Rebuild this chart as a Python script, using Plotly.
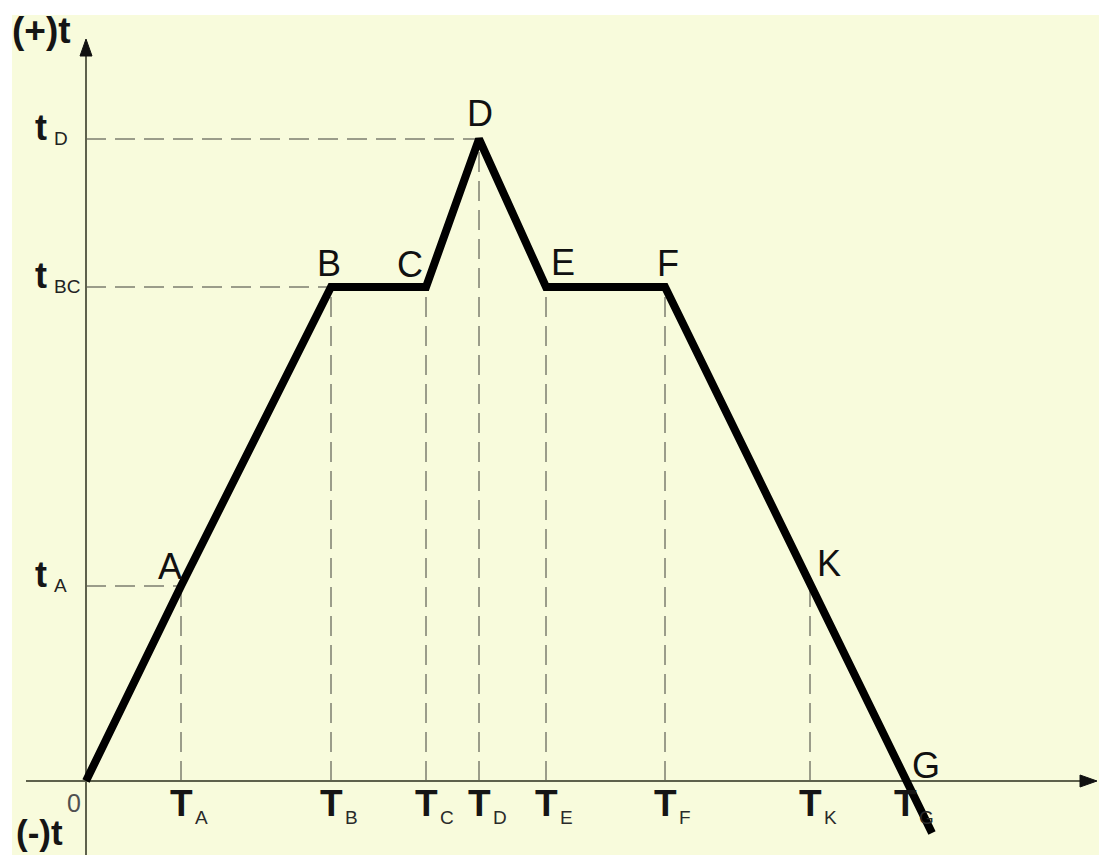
import plotly.graph_objects as go

# time marks on the horizontal axis (pixel-like units, origin at 0)
T_names = ["A", "B", "C", "D", "E", "F", "K", "G"]
T_vals = [95, 245, 340, 393, 460, 579, 724, 819]

# temperature levels on the vertical axis
t_names = ["D", "BC", "A"]
t_vals = [642, 494, 195]

# the broken line O-A-B-C-D-E-F-K-G and its tail below zero
path_T = [0, 95, 245, 340, 393, 460, 579, 724, 819, 846]
path_t = [0, 195, 494, 494, 642, 494, 494, 195, 0, -52]
point_names = ["A", "B", "C", "D", "E", "F", "K", "G"]

# label offsets (px) for each point letter
label_dx = [-11, -2, -16, 1, 17, 3, 19, 21]
label_dy = [20, 24, 23, 26, 25, 24, 23, 16]

W, H = 1099, 855
x0_px, y0_px = 86, 781  # origin position in the picture
x_rng = [-x0_px, W - x0_px]
y_rng = [y0_px - H, y0_px]
x_axis_end = 1011
y_axis_end = 742

bg = "#F8FBDC"
axis_col = "#5E614C"
dash_col = "#3E3E38"
font = "Liberation Sans, Arial, sans-serif"

fig = go.Figure()

# dashed guides: vertical from axis to each point, horizontal to the level points
pt = dict(zip(point_names, zip(path_T[1:], path_t[1:])))
for name in ["A", "B", "C", "D", "E", "F", "K"]:
    px_, py_ = pt[name]
    fig.add_trace(go.Scatter(x=[px_, px_], y=[0, py_], mode="lines",
                             line=dict(color=dash_col, width=1, dash="20px,9px"),
                             hoverinfo="skip"))
for name, lvl in zip(["D", "B", "A"], t_vals):
    px_, py_ = pt[name]
    fig.add_trace(go.Scatter(x=[0, px_], y=[lvl, lvl], mode="lines",
                             line=dict(color=dash_col, width=1, dash="20px,9px"),
                             hoverinfo="skip"))

# axes
fig.add_trace(go.Scatter(x=[-60, x_axis_end - 14], y=[0, 0], mode="lines",
                         line=dict(color=axis_col, width=2), hoverinfo="skip"))
fig.add_trace(go.Scatter(x=[0, 0], y=[y_rng[0], y_axis_end - 14], mode="lines",
                         line=dict(color=axis_col, width=2), hoverinfo="skip"))
# arrowheads
fig.add_trace(go.Scatter(x=[x_axis_end, x_axis_end - 17, x_axis_end - 17, x_axis_end],
                         y=[0, 6, -6, 0], mode="lines", fill="toself",
                         fillcolor="#111111", line=dict(color="#111111", width=1),
                         hoverinfo="skip"))
fig.add_trace(go.Scatter(x=[0, -6, 6, 0],
                         y=[y_axis_end, y_axis_end - 17, y_axis_end - 17, y_axis_end],
                         mode="lines", fill="toself",
                         fillcolor="#111111", line=dict(color="#111111", width=1),
                         hoverinfo="skip"))

# main thick line
fig.add_trace(go.Scatter(x=path_T, y=path_t, mode="lines",
                         line=dict(color="#000000", width=8), hoverinfo="skip"))

ann = []
# point letters
for name, (px_, py_), dx, dy in zip(point_names, zip(path_T[1:], path_t[1:]), label_dx, label_dy):
    ann.append(dict(x=px_, y=py_, text=name, showarrow=False, xshift=dx, yshift=dy,
                    font=dict(size=36, color="#101010", family=font)))
# T labels under the axis
for name, v in zip(T_names, T_vals):
    ann.append(dict(x=v, y=0, text="<b>T</b>", showarrow=False, xshift=0, yshift=-22,
                    font=dict(size=37, color="#151515", family=font)))
    ann.append(dict(x=v, y=0, text=name, showarrow=False, xanchor="left", xshift=12,
                    yshift=-36, font=dict(size=19, color="#2A2A2A", family=font)))
# t labels left of the axis
for name, v in zip(t_names, t_vals):
    ann.append(dict(x=0, y=v, text="<b>t</b>", showarrow=False, xanchor="left",
                    xshift=-53, yshift=12, font=dict(size=36, color="#151515", family=font)))
    ann.append(dict(x=0, y=v, text=name, showarrow=False, xanchor="left",
                    xshift=-34, yshift=1, font=dict(size=19, color="#222222", family=font)))
# axis captions
ann.append(dict(x=0, y=y_rng[1], text="<b>(+)t</b>", showarrow=False, xanchor="left",
                yanchor="top", xshift=-76, yshift=-8,
                font=dict(size=37, color="#151515", family=font)))
ann.append(dict(x=0, y=y_rng[0], text="<b>(-)t</b>", showarrow=False, xanchor="left",
                yanchor="bottom", xshift=-72, yshift=1,
                font=dict(size=35, color="#151515", family=font)))
ann.append(dict(x=0, y=0, text="0", showarrow=False, xshift=-12, yshift=-22,
                font=dict(size=25, color="#505050", family=font)))

fig.update_xaxes(visible=False, range=x_rng, fixedrange=True)
fig.update_yaxes(visible=False, range=y_rng, fixedrange=True)
fig.update_layout(
    width=W, height=H,
    margin=dict(l=0, r=0, t=0, b=0),
    showlegend=False,
    paper_bgcolor="#FFFFFF",
    plot_bgcolor="rgba(0,0,0,0)",
    annotations=ann,
    shapes=[dict(type="rect", xref="paper", yref="paper", x0=12 / W, x1=1, y0=0, y1=1 - 15 / H,
                 fillcolor=bg, line=dict(width=0), layer="below")],
)

fig.write_html("out.html", config={"displayModeBar": False},
               post_script="document.body.style.margin='0';")
